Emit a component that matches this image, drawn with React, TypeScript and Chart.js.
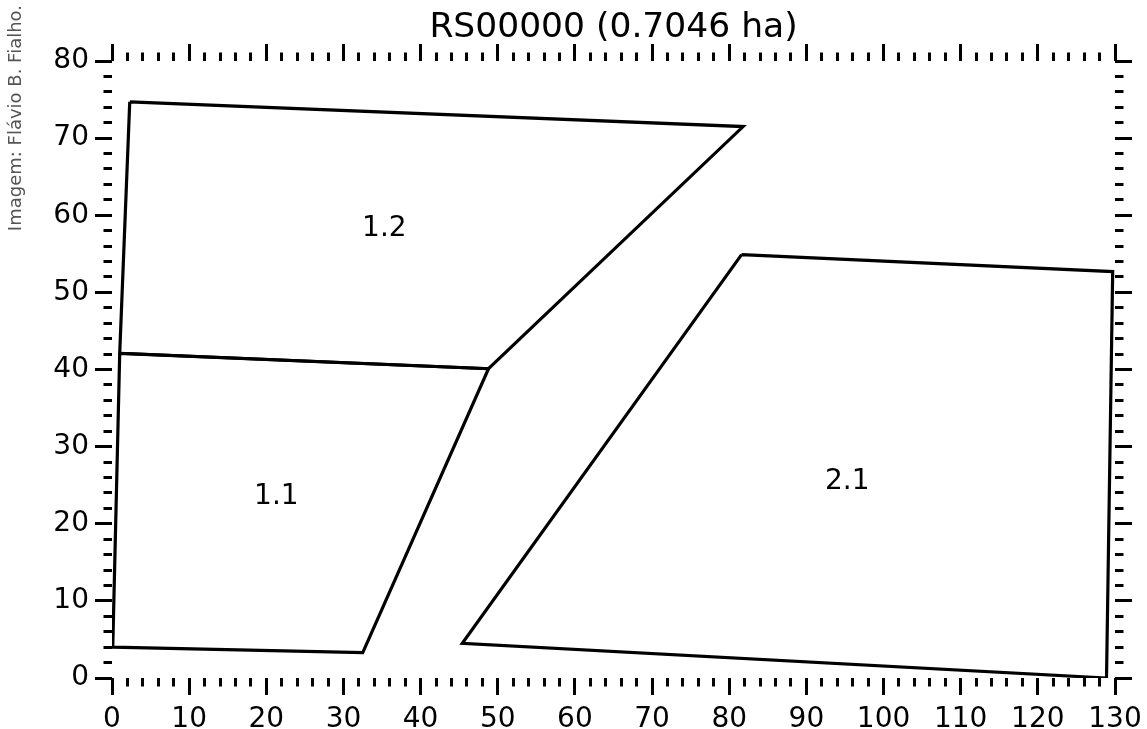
import React, { useEffect, useRef } from "react";
import { Chart, registerables } from "chart.js";

Chart.register(...registerables);

const titleText = "RS00000 (0.7046 ha)";
const creditText = "Imagem: Flávio B. Fialho.";

const xRange = [0, 130];
const yRange = [0, 80];

const poly12X = [2.3, 81.8, 48.8, 1.0, 2.3];
const poly12Y = [74.7, 71.5, 40.1, 42.1, 74.7];
const poly11X = [1.0, 48.8, 32.5, 0.1, 1.0];
const poly11Y = [42.1, 40.1, 3.3, 4.0, 42.1];
const poly21X = [81.6, 129.7, 128.9, 45.4, 81.6];
const poly21Y = [54.9, 52.7, 0.0, 4.5, 54.9];

const plotNames = ["1.2", "1.1", "2.1"];
const plotLabelX = [35.3, 21.3, 95.3];
const plotLabelY = [58.2, 23.5, 25.5];

const FONT = "'DejaVu Sans', sans-serif";
const TITLE_SIZE = 34.5;
const TITLE_PAD_TOP = 7;

const isMajor = (v: number | undefined) =>
  v !== undefined && Math.abs(v / 10 - Math.round(v / 10)) < 1e-6;

const toPts = (xs: number[], ys: number[]) => xs.map((x, i) => ({ x, y: ys[i] }));

const gridFor = (outerFirst: boolean) => ({
  display: true,
  drawOnChartArea: false,
  drawTicks: true,
  tickLength: 17,
  lineWidth: 3,
  tickWidth: 3,
  color: "#000",
  tickColor: "#000",
  tickBorderDash: (ctx: any) =>
    isMajor(ctx.tick?.value) ? [] : outerFirst ? [0, 8.5, 8.5, 100] : [8.5, 100],
});

const zeroPad = (s: any) => {
  s.paddingLeft = 0;
  s.paddingRight = 0;
  s.paddingTop = 0;
  s.paddingBottom = 0;
};

const labelsPlugin = {
  id: "labelsPlugin",
  afterDatasetsDraw(chart: any) {
    const { ctx, scales } = chart;
    ctx.save();
    ctx.fillStyle = "#000";
    ctx.font = `28px ${FONT}`;
    ctx.textAlign = "center";
    ctx.textBaseline = "middle";
    plotNames.forEach((n, i) => {
      ctx.fillText(n, scales.x.getPixelForValue(plotLabelX[i]), scales.y.getPixelForValue(plotLabelY[i]));
    });
    ctx.restore();
    ctx.save();
    ctx.fillStyle = "#555";
    ctx.font = `18px ${FONT}`;
    ctx.translate(16, 5);
    ctx.rotate(-Math.PI / 2);
    ctx.textAlign = "right";
    ctx.textBaseline = "middle";
    ctx.fillText(creditText, 0, 0);
    ctx.restore();
  },
};

export default function App() {
  const ref = useRef<HTMLCanvasElement>(null);
  useEffect(() => {
    if (!ref.current) return;
    const ds = (xs: number[], ys: number[]) => ({
      data: toPts(xs, ys),
      showLine: true,
      borderColor: "#000",
      borderWidth: 3.2,
      pointRadius: 0,
      fill: false,
      tension: 0,
      xAxisID: "x",
      yAxisID: "y",
    });
    const chart = new Chart(ref.current, {
      type: "scatter",
      data: {
        datasets: [ds(poly12X, poly12Y), ds(poly11X, poly11Y), ds(poly21X, poly21Y)],
      },
      options: {
        animation: false,
        responsive: false,
        maintainAspectRatio: false,
        layout: { padding: 0 },
        plugins: {
          legend: { display: false },
          tooltip: { enabled: false },
          title: {
            display: true,
            text: titleText,
            color: "#000",
            fullSize: false,
            font: { family: FONT, size: TITLE_SIZE, weight: "normal", lineHeight: 1.2 },
            padding: { top: TITLE_PAD_TOP, bottom: 0 },
          },
        },
        scales: {
          x: {
            type: "linear",
            position: "bottom",
            min: xRange[0],
            max: xRange[1],
            border: { display: false },
            grid: gridFor(false),
            ticks: {
              stepSize: 2,
              autoSkip: false,
              maxRotation: 0,
              padding: 8,
              color: "#000",
              font: { family: FONT, size: 28 },
              callback: (v: any) => (isMajor(Number(v)) ? String(Math.round(Number(v))) : ""),
            },
            afterFit: (s: any) => {
              s.height = 51;
              zeroPad(s);
            },
          },
          x2: {
            type: "linear",
            position: "top",
            min: xRange[0],
            max: xRange[1],
            border: { display: false },
            grid: gridFor(true),
            ticks: { stepSize: 2, autoSkip: false, display: false },
            afterFit: (s: any) => {
              s.height = 61 - (TITLE_PAD_TOP + TITLE_SIZE * 1.2);
              zeroPad(s);
            },
          },
          y: {
            type: "linear",
            position: "left",
            min: yRange[0],
            max: yRange[1],
            border: { display: false },
            grid: gridFor(true),
            ticks: {
              stepSize: 2,
              autoSkip: false,
              padding: 6,
              color: "#000",
              font: { family: FONT, size: 28 },
              callback: (v: any) => (isMajor(Number(v)) ? String(Math.round(Number(v))) : ""),
            },
            afterFit: (s: any) => {
              s.width = 112;
              zeroPad(s);
            },
          },
          y2: {
            type: "linear",
            position: "right",
            min: yRange[0],
            max: yRange[1],
            border: { display: false },
            grid: gridFor(false),
            ticks: { stepSize: 2, autoSkip: false, display: false },
            afterFit: (s: any) => {
              s.width = 32;
              zeroPad(s);
            },
          },
        },
      } as any,
      plugins: [labelsPlugin],
    });
    return () => chart.destroy();
  }, []);
  return (
    <div style={{ position: "absolute", left: 0, top: 0, width: 1147, height: 729, background: "#fff" }}>
      <canvas ref={ref} width={1147} height={729} style={{ display: "block" }} />
    </div>
  );
}
